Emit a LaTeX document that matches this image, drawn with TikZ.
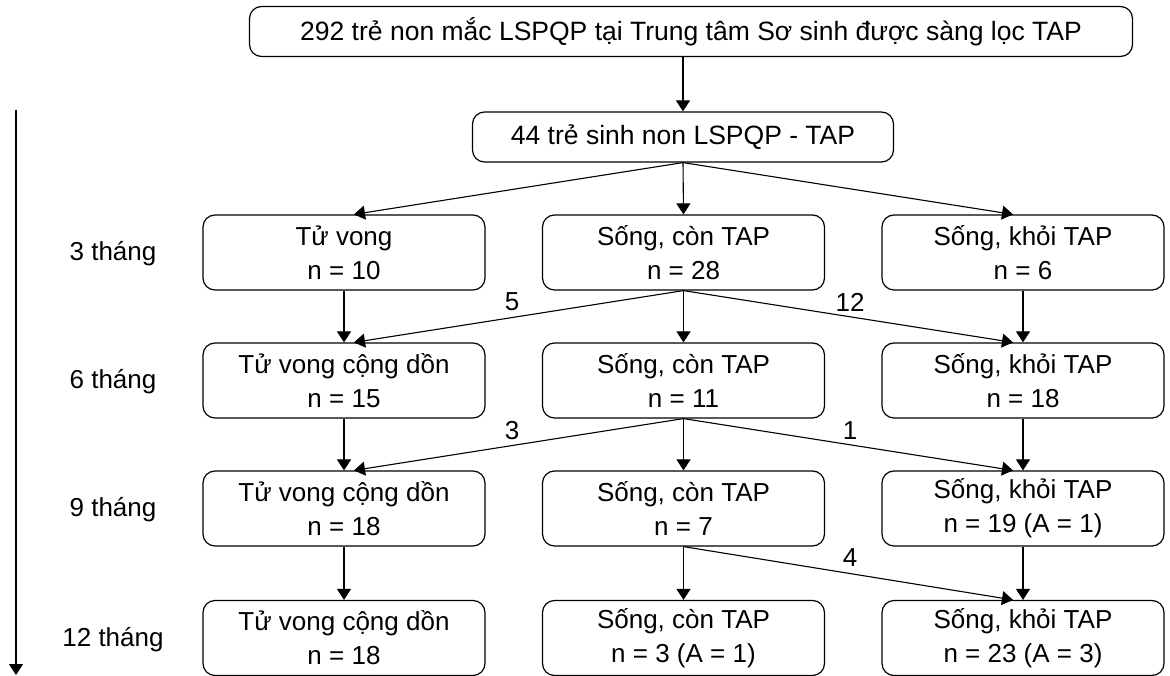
\documentclass[tikz,border=0pt]{standalone}
\usepackage{fontspec}
\setmainfont{Liberation Sans}
\usetikzlibrary{arrows.meta,calc}
\tikzset{
  box/.style={draw, line width=1.2pt, rounded corners=12pt, align=center,
    minimum width=282pt, minimum height=75pt, inner sep=0pt,
    font=\fontsize{26}{34}\selectfont},
  headbox/.style={box, minimum height=50pt, font=\fontsize{26.5}{34}\selectfont},
  conn/.style={line width=1.1pt, -{Triangle[length=11pt,width=14pt]}},
  txt/.style={font=\fontsize{26}{34}\selectfont, inner sep=0pt}
}
\begin{document}
\begin{tikzpicture}[x=1pt,y=-1pt]
\useasboundingbox (0,0) rectangle (1170,676);

% top of the flow
\node[headbox, minimum width=883pt] (top) at (691,31.5)
  {292 trẻ non mắc LSPQP tại Trung tâm Sơ sinh được sàng lọc TAP};
\node[headbox, minimum width=421pt] (all) at (683,137)
  {44 trẻ sinh non LSPQP - TAP};

% 3 months
\node[box] (L1) at (344,252.5) {Tử vong\\n = 10};
\node[box] (M1) at (683.5,252.5) {Sống, còn TAP\\n = 28};
\node[box] (R1) at (1023,252.5) {Sống, khỏi TAP\\n = 6};
% 6 months
\node[box] (L2) at (344,380.5) {Tử vong cộng dồn\\n = 15};
\node[box] (M2) at (683.5,380.5) {Sống, còn TAP\\n = 11};
\node[box] (R2) at (1023,380.5) {Sống, khỏi TAP\\n = 18};
% 9 months
\node[box] (L3) at (344,508.5) {Tử vong cộng dồn\\n = 18};
\node[box] (M3) at (683.5,508.5) {Sống, còn TAP\\n = 7};
\node[box] (R3) at (1023,508.5) {Sống, khỏi TAP\\n = 19 (A = 1)};
% 12 months
\node[box] (L4) at (344,638) {Tử vong cộng dồn\\n = 18};
\node[box] (M4) at (683.5,638) {Sống, còn TAP\\n = 3 (A = 1)};
\node[box] (R4) at (1023,638) {Sống, khỏi TAP\\n = 23 (A = 3)};

% time axis
\coordinate (t0) at (16,110);
\coordinate (t1) at (16,675);
\draw[conn] (t0) -- (t1);
\node[txt] (m3) at (113,254) {3 tháng};
\node[txt] (m6) at (113,382) {6 tháng};
\node[txt] (m9) at (113,510) {9 tháng};
\node[txt] (m12) at (113,640) {12 tháng};

% connectors
\draw[conn] (all.north |- top.south) -- (all.north);
\draw[conn] (all.south) -- ($(L1.north)+(10,0)$);
\draw[conn] (all.south) -- (M1.north);
\draw[conn] (all.south) -- ($(R1.north)+(-10,0)$);

\draw[conn] (L1) -- (L2);
\draw[conn] (M1) -- (M2);
\draw[conn] (R1) -- (R2);
\draw[conn] (M1.south) -- ($(L2.north)+(10,0)$);
\draw[conn] (M1.south) -- ($(R2.north)+(-10,0)$);

\draw[conn] (L2) -- (L3);
\draw[conn] (M2) -- (M3);
\draw[conn] (R2) -- (R3);
\draw[conn] (M2.south) -- ($(L3.north)+(10,0)$);
\draw[conn] (M2.south) -- ($(R3.north)+(-10,0)$);

\draw[conn] (L3) -- (L4);
\draw[conn] (M3) -- (M4);
\draw[conn] (R3) -- (R4);
\draw[conn] (M3.south) -- ($(R4.north)+(-10,0)$);

% transition counts
\node[txt] (n5) at (512,302) {5};
\node[txt] (n12) at (850,302) {12};
\node[txt] (n3) at (512,431) {3};
\node[txt] (n1) at (850,431) {1};
\node[txt] (n4) at (850,558) {4};
\end{tikzpicture}
\end{document}
